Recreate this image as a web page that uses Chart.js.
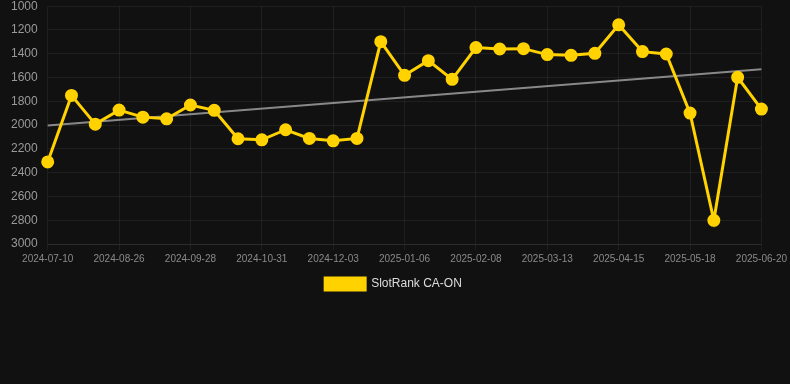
<!DOCTYPE html>
<html>
<head>
<meta charset="utf-8">
<script src="https://cdn.jsdelivr.net/npm/chart.js@4"></script>
<style>
  html, body { margin: 0; padding: 0; background: #111111; overflow: hidden; }
  #wrap { width: 790px; height: 311px; margin-top: -11px; }
</style>
</head>
<body>
<div id="wrap"><canvas id="rank-chart"></canvas></div>
<script>
/* data */
const dates = [
  "2024-07-10", "2024-07-26", "2024-08-10", "2024-08-26", "2024-09-06", "2024-09-17",
  "2024-09-28", "2024-10-09", "2024-10-20", "2024-10-31", "2024-11-11", "2024-11-22",
  "2024-12-03", "2024-12-14", "2024-12-25", "2025-01-06", "2025-01-17", "2025-01-28",
  "2025-02-08", "2025-02-19", "2025-03-02", "2025-03-13", "2025-03-24", "2025-04-04",
  "2025-04-15", "2025-04-26", "2025-05-07", "2025-05-18", "2025-05-29", "2025-06-09",
  "2025-06-20"
];
const rankValues = [
  2310, 1750, 1992, 1874, 1933, 1947, 1831, 1876, 2115, 2124, 2039, 2112,
  2132, 2112, 1298, 1581, 1458, 1615, 1348, 1360, 1357, 1407, 1413, 1396,
  1157, 1382, 1402, 1899, 2801, 1598, 1865
];
const trendEnds = [2003, 1531];
const yTicks = [1000, 1200, 1400, 1600, 1800, 2000, 2200, 2400, 2600, 2800, 3000];

const gold = "rgb(255, 210, 0)";
const gridColor = "rgba(255,255,255,0.06)";

new Chart(document.getElementById("rank-chart"), {
  type: "line",
  data: {
    labels: dates,
    datasets: [
      {
        label: "SlotRank CA-ON",
        data: rankValues,
        borderColor: gold,
        backgroundColor: gold,
        borderWidth: 3,
        pointRadius: 5,
        pointHoverRadius: 6,
        tension: 0
      },
      {
        label: "trend",
        data: [
          { x: dates[0], y: trendEnds[0] },
          { x: dates[dates.length - 1], y: trendEnds[1] }
        ],
        borderColor: "rgba(150,150,150,0.9)",
        borderWidth: 2,
        pointRadius: 0,
        tension: 0
      }
    ]
  },
  options: {
    responsive: true,
    maintainAspectRatio: false,
    animation: false,
    layout: { padding: { left: 1, right: 4 } },
    plugins: {
      legend: {
        position: "bottom",
        labels: {
          color: "#dddddd",
          font: { family: "Liberation Sans, Arial, sans-serif", size: 12 },
          boxWidth: 40,
          boxHeight: 12,
          filter: (item) => item.datasetIndex === 0
        }
      },
      tooltip: { enabled: true }
    },
    scales: {
      x: {
        grid: { color: gridColor, drawTicks: true, tickLength: 6 },
        border: { color: gridColor },
        ticks: {
          color: "#8a8a8a",
          font: { family: "Liberation Sans, Arial, sans-serif", size: 10 },
          maxRotation: 0,
          autoSkip: true
        }
      },
      y: {
        reverse: true,
        min: 1000,
        max: 3000,
        afterBuildTicks: (axis) => { axis.ticks = yTicks.map(v => ({ value: v })); },
        grid: { color: gridColor, drawTicks: false },
        border: { display: false },
        ticks: {
          color: "#9a9a9a",
          padding: 10,
          font: { family: "Liberation Sans, Arial, sans-serif", size: 12 },
          callback: (v) => String(v)
        }
      }
    }
  }
});
</script>
</body>
</html>
